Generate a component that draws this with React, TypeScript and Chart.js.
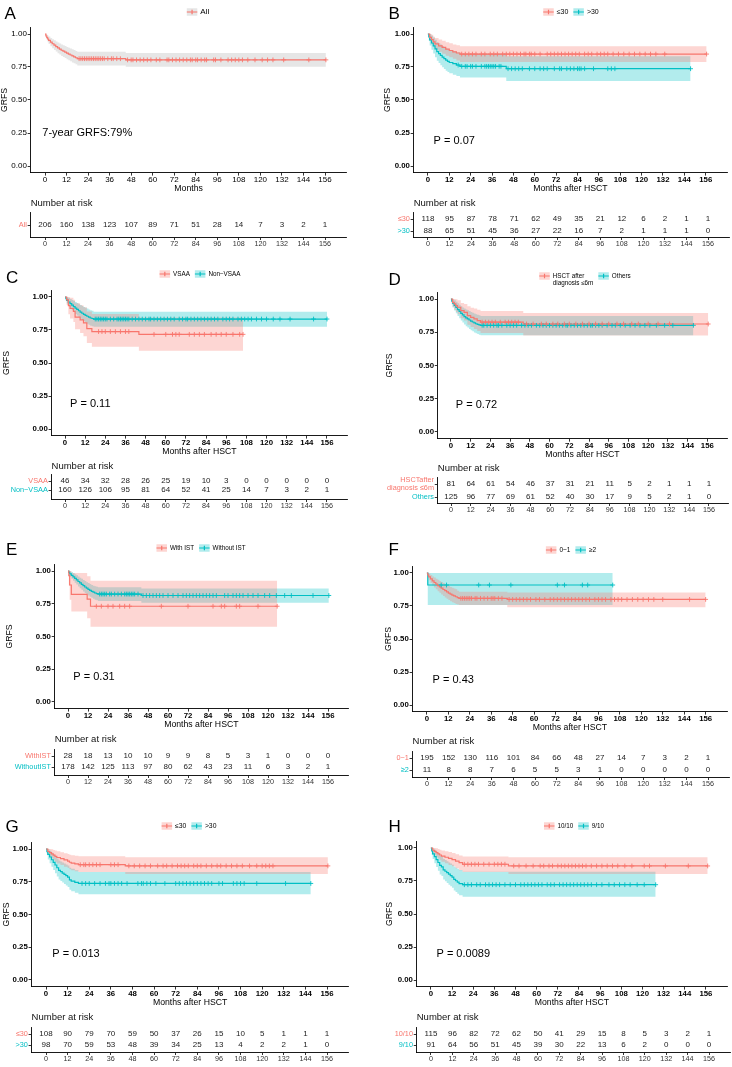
import React, { useEffect, useRef } from 'react';
import { Chart, registerables } from 'chart.js';
Chart.register(...registerables);

const FONT = '"Liberation Sans", Arial, Helvetica, sans-serif';
const RED = '#F8766D';
const TEAL = '#00BFC4';
const RED_BAND = 'rgba(248,118,109,0.3)';
const TEAL_BAND = 'rgba(0,191,196,0.3)';
const GREY_BAND = 'rgba(140,140,140,0.22)';

const MONTH_TICKS = [0, 12, 24, 36, 48, 60, 72, 84, 96, 108, 120, 132, 144, 156];
const GRFS_TICKS = [0, 0.25, 0.5, 0.75, 1];
const X_MIN = -8;
const X_MAX = 168;
const Y_MIN = -0.05;
const Y_MAX = 1.05;

// ---------- Panel A : All ----------
const A_ALL_T = [0, 0.5, 1, 1.5, 2, 3, 4, 5, 6, 7, 8, 9, 10, 11, 12, 13, 14, 15, 16, 17, 18, 45, 156.5];
const A_ALL_S = [1, 0.985, 0.972, 0.962, 0.952, 0.938, 0.926, 0.915, 0.905, 0.895, 0.886, 0.877, 0.87, 0.863, 0.855, 0.848, 0.841, 0.834, 0.827, 0.82, 0.813, 0.804, 0.804];
const A_ALL_L = [1, 0.968, 0.95, 0.937, 0.924, 0.907, 0.892, 0.879, 0.867, 0.855, 0.845, 0.834, 0.826, 0.818, 0.809, 0.801, 0.793, 0.785, 0.778, 0.77, 0.762, 0.752, 0.752];
const A_ALL_U = [1, 1, 0.995, 0.988, 0.981, 0.97, 0.961, 0.952, 0.944, 0.936, 0.928, 0.921, 0.915, 0.909, 0.902, 0.896, 0.89, 0.884, 0.878, 0.872, 0.866, 0.857, 0.857];
const A_ALL_C = [19, 20, 21, 22, 23, 24, 25, 26, 27, 28, 29, 30, 31, 32, 33, 35, 37, 38, 40, 42, 46, 48, 49, 51, 53, 55, 57, 59, 62, 64, 68, 69, 71, 73, 75, 77, 79, 81, 82, 84, 85, 87, 89, 90, 94, 95, 98, 102, 104, 106, 108, 110, 113, 117, 121, 124, 127, 133, 147, 156.5];
const A_RISK_ALL = [206, 160, 138, 123, 107, 89, 71, 51, 28, 14, 7, 3, 2, 1];

// ---------- Panel B ----------
const B_LE_T = [0, 1, 2, 3, 4, 6, 8, 10, 12, 14, 16, 18, 156.5];
const B_LE_S = [1, 0.975, 0.958, 0.94, 0.925, 0.91, 0.898, 0.885, 0.875, 0.865, 0.856, 0.848, 0.848];
const B_LE_L = [1, 0.947, 0.922, 0.9, 0.882, 0.865, 0.85, 0.835, 0.823, 0.812, 0.8, 0.787, 0.787];
const B_LE_U = [1, 1, 0.995, 0.98, 0.97, 0.958, 0.948, 0.937, 0.929, 0.921, 0.914, 0.908, 0.908];
const B_LE_C = [19, 21, 23, 25, 27, 30, 32, 35, 37, 39, 42, 44, 46, 48, 50, 52, 54, 55, 57, 58, 60, 63, 67, 69, 71, 73, 75, 77, 79, 81, 83, 85, 88, 90, 92, 95, 97, 99, 101, 104, 107, 110, 113, 116, 119, 122, 125, 128, 133, 156.5];
const B_GT_T = [0, 0.5, 1, 2, 3, 4, 5, 6, 7, 8, 9, 10, 11, 12, 14, 16, 18, 44, 147.5];
const B_GT_S = [1, 0.978, 0.955, 0.932, 0.91, 0.888, 0.866, 0.852, 0.838, 0.825, 0.813, 0.802, 0.793, 0.784, 0.775, 0.765, 0.755, 0.737, 0.737];
const B_GT_L = [1, 0.948, 0.912, 0.88, 0.852, 0.824, 0.797, 0.78, 0.764, 0.749, 0.735, 0.722, 0.712, 0.702, 0.692, 0.681, 0.67, 0.644, 0.644];
const B_GT_U = [1, 1, 0.999, 0.987, 0.972, 0.956, 0.94, 0.93, 0.92, 0.91, 0.9, 0.892, 0.885, 0.878, 0.87, 0.862, 0.85, 0.832, 0.832];
const B_GT_C = [17, 19, 21, 22, 24, 25, 27, 30, 32, 33, 34, 35, 36, 37, 38, 40, 41, 45, 47, 49, 51, 53, 57, 60, 63, 65, 67, 71, 74, 75, 78, 80, 82, 84, 85, 86, 88, 93, 101, 103, 105, 147.5];
const B_RISK_LE = [118, 95, 87, 78, 71, 62, 49, 35, 21, 12, 6, 2, 1, 1];
const B_RISK_GT = [88, 65, 51, 45, 36, 27, 22, 16, 7, 2, 1, 1, 1, 0];

// ---------- Panel C ----------
const C_VSAA_T = [0, 1, 2, 3, 5, 6, 9, 11, 13, 16, 44, 106];
const C_VSAA_S = [1, 0.978, 0.935, 0.913, 0.891, 0.848, 0.826, 0.804, 0.76, 0.738, 0.717, 0.717];
const C_VSAA_L = [1, 0.94, 0.87, 0.838, 0.81, 0.755, 0.728, 0.703, 0.652, 0.624, 0.593, 0.593];
const C_VSAA_U = [1, 1, 1, 0.995, 0.98, 0.953, 0.938, 0.922, 0.89, 0.872, 0.845, 0.845];
const C_VSAA_C = [20, 22, 24, 27, 30, 33, 36, 38, 53, 60, 64, 66, 68, 74, 77, 80, 83, 87, 90, 93, 96, 100, 104, 106];
const C_NON_T = [0, 0.5, 1, 2, 3, 4, 5, 6, 7, 8, 9, 10, 11, 12, 13, 14, 15, 16, 17, 156];
const C_NON_S = [1, 0.988, 0.975, 0.962, 0.95, 0.938, 0.927, 0.916, 0.906, 0.896, 0.886, 0.877, 0.869, 0.861, 0.854, 0.847, 0.841, 0.837, 0.833, 0.833];
const C_NON_L = [1, 0.97, 0.95, 0.932, 0.915, 0.9, 0.886, 0.872, 0.86, 0.848, 0.836, 0.826, 0.816, 0.806, 0.798, 0.79, 0.783, 0.779, 0.775, 0.775];
const C_NON_U = [1, 1, 1, 0.992, 0.985, 0.977, 0.97, 0.962, 0.954, 0.946, 0.939, 0.932, 0.925, 0.918, 0.912, 0.906, 0.9, 0.895, 0.889, 0.889];
const C_NON_C = [18, 19, 20, 21, 22, 23, 24, 25, 27, 29, 31, 32, 33, 34, 35, 36, 37, 38, 40, 42, 44, 46, 48, 50, 51, 53, 55, 57, 59, 61, 63, 65, 68, 70, 72, 73, 75, 77, 79, 81, 83, 85, 87, 89, 91, 94, 96, 98, 100, 103, 105, 107, 109, 111, 114, 117, 120, 124, 128, 134, 148, 156];
const C_RISK_VSAA = [46, 34, 32, 28, 26, 25, 19, 10, 3, 0, 0, 0, 0, 0];
const C_RISK_NON = [160, 126, 106, 95, 81, 64, 52, 41, 25, 14, 7, 3, 2, 1];

// ---------- Panel D ----------
const D_EARLY_T = [0, 1, 2, 3, 4, 6, 8, 10, 12, 14, 16, 18, 44, 156.5];
const D_EARLY_S = [1, 0.975, 0.963, 0.95, 0.938, 0.913, 0.9, 0.875, 0.862, 0.85, 0.838, 0.826, 0.812, 0.812];
const D_EARLY_L = [1, 0.94, 0.92, 0.902, 0.886, 0.855, 0.838, 0.807, 0.79, 0.774, 0.76, 0.745, 0.725, 0.725];
const D_EARLY_U = [1, 1, 1, 0.998, 0.99, 0.97, 0.962, 0.945, 0.935, 0.928, 0.92, 0.91, 0.895, 0.895];
const D_EARLY_C = [19, 21, 23, 25, 27, 30, 33, 35, 37, 39, 41, 46, 50, 55, 58, 62, 65, 69, 72, 76, 80, 84, 88, 92, 96, 101, 105, 110, 114, 120, 126, 133, 156.5];
const D_OTH_T = [0, 0.5, 1, 2, 3, 4, 5, 6, 7, 8, 9, 10, 11, 12, 13, 14, 15, 16, 17, 18, 147.5];
const D_OTH_S = [1, 0.984, 0.968, 0.952, 0.936, 0.92, 0.906, 0.892, 0.88, 0.868, 0.858, 0.85, 0.842, 0.834, 0.827, 0.82, 0.814, 0.809, 0.805, 0.802, 0.802];
const D_OTH_L = [1, 0.96, 0.937, 0.914, 0.893, 0.872, 0.855, 0.838, 0.823, 0.808, 0.795, 0.785, 0.775, 0.765, 0.757, 0.749, 0.742, 0.736, 0.731, 0.727, 0.727];
const D_OTH_U = [1, 1, 0.999, 0.99, 0.98, 0.968, 0.957, 0.946, 0.937, 0.928, 0.921, 0.915, 0.909, 0.903, 0.897, 0.891, 0.886, 0.882, 0.878, 0.873, 0.873];
const D_OTH_C = [19, 20, 22, 24, 26, 28, 29, 31, 34, 36, 38, 40, 43, 45, 47, 49, 52, 54, 56, 58, 60, 62, 64, 66, 68, 70, 71, 73, 75, 77, 79, 81, 83, 85, 86, 88, 90, 92, 95, 98, 100, 103, 106, 109, 112, 115, 118, 121, 125, 130, 135, 147.5];
const D_RISK_EARLY = [81, 64, 61, 54, 46, 37, 31, 21, 11, 5, 2, 1, 1, 1];
const D_RISK_OTH = [125, 96, 77, 69, 61, 52, 40, 30, 17, 9, 5, 2, 1, 0];

// ---------- Panel E ----------
const E_WITH_T = [0, 0.5, 1, 2, 11.5, 13.5, 125.5];
const E_WITH_S = [1, 0.964, 0.893, 0.821, 0.786, 0.731, 0.731];
const E_WITH_L = [1, 0.89, 0.78, 0.69, 0.64, 0.575, 0.575];
const E_WITH_U = [1, 1, 1, 0.985, 0.96, 0.926, 0.926];
const E_WITH_C = [17, 20, 24, 27, 31, 34, 37, 56, 72, 87, 92, 94, 101, 103, 114, 125.5];
const E_WO_T = [0, 0.5, 1, 2, 3, 4, 5, 6, 7, 8, 9, 10, 11, 12, 13, 14, 15, 16, 17, 18, 44, 156.5];
const E_WO_S = [1, 0.989, 0.978, 0.966, 0.955, 0.943, 0.932, 0.92, 0.909, 0.898, 0.888, 0.878, 0.869, 0.86, 0.852, 0.845, 0.838, 0.832, 0.828, 0.824, 0.813, 0.813];
const E_WO_L = [1, 0.974, 0.957, 0.94, 0.925, 0.91, 0.896, 0.882, 0.869, 0.856, 0.844, 0.833, 0.823, 0.813, 0.804, 0.796, 0.788, 0.781, 0.776, 0.771, 0.758, 0.758];
const E_WO_U = [1, 1, 0.999, 0.992, 0.985, 0.976, 0.968, 0.958, 0.949, 0.94, 0.932, 0.923, 0.915, 0.908, 0.9, 0.894, 0.888, 0.883, 0.879, 0.876, 0.866, 0.866];
const E_WO_C = [19, 20, 21, 22, 23, 25, 26, 28, 30, 32, 34, 35, 36, 37, 38, 39, 40, 42, 45, 47, 49, 51, 53, 55, 57, 60, 63, 66, 69, 71, 73, 75, 77, 79, 81, 83, 85, 87, 89, 94, 96, 99, 101, 103, 105, 108, 111, 114, 118, 121, 125, 130, 134, 147, 156.5];
const E_RISK_WITH = [28, 18, 13, 10, 10, 9, 9, 8, 5, 3, 1, 0, 0, 0];
const E_RISK_WO = [178, 142, 125, 113, 97, 80, 62, 43, 23, 11, 6, 3, 2, 1];

// ---------- Panel F ----------
const F_LOW_T = [0, 0.5, 1, 2, 3, 4, 5, 6, 7, 8, 9, 10, 11, 12, 13, 14, 15, 16, 17, 18, 45, 156];
const F_LOW_S = [1, 0.985, 0.97, 0.955, 0.94, 0.928, 0.916, 0.905, 0.895, 0.885, 0.875, 0.866, 0.857, 0.848, 0.84, 0.833, 0.826, 0.82, 0.814, 0.808, 0.8, 0.8];
const F_LOW_L = [1, 0.968, 0.946, 0.925, 0.906, 0.891, 0.876, 0.862, 0.85, 0.838, 0.826, 0.815, 0.805, 0.795, 0.786, 0.778, 0.772, 0.766, 0.762, 0.758, 0.74, 0.74];
const F_LOW_U = [1, 1, 0.994, 0.985, 0.974, 0.965, 0.956, 0.948, 0.94, 0.932, 0.924, 0.917, 0.909, 0.901, 0.894, 0.888, 0.882, 0.876, 0.866, 0.858, 0.853, 0.853];
const F_LOW_C = [19, 20, 21, 22, 23, 24, 25, 27, 28, 30, 32, 34, 36, 37, 38, 40, 42, 46, 48, 50, 52, 54, 56, 58, 61, 63, 66, 69, 71, 73, 75, 77, 79, 81, 83, 85, 87, 89, 91, 94, 96, 98, 100, 103, 105, 107, 109, 112, 115, 118, 121, 124, 127, 132, 147, 156];
const F_HIGH_T = [0, 0.5, 104];
const F_HIGH_S = [1, 0.909, 0.909];
const F_HIGH_L = [1, 0.758, 0.758];
const F_HIGH_U = [1, 1, 1];
const F_HIGH_C = [8, 11, 29, 35, 47, 73, 77, 87, 90, 104];
const F_RISK_LOW = [195, 152, 130, 116, 101, 84, 66, 48, 27, 14, 7, 3, 2, 1];
const F_RISK_HIGH = [11, 8, 8, 7, 6, 5, 5, 3, 1, 0, 0, 0, 0, 0];

// ---------- Panel G ----------
const G_LE_T = [0, 1, 2, 3, 4, 5, 6, 8, 10, 12, 13, 14, 16, 18, 44, 156.5];
const G_LE_S = [1, 0.981, 0.972, 0.963, 0.954, 0.944, 0.935, 0.926, 0.917, 0.908, 0.899, 0.892, 0.886, 0.88, 0.871, 0.871];
const G_LE_L = [1, 0.955, 0.941, 0.928, 0.915, 0.902, 0.889, 0.877, 0.865, 0.855, 0.845, 0.837, 0.83, 0.824, 0.81, 0.81];
const G_LE_U = [1, 1, 1, 0.998, 0.993, 0.988, 0.982, 0.975, 0.968, 0.962, 0.957, 0.952, 0.948, 0.945, 0.937, 0.937];
const G_LE_C = [19, 21, 22, 24, 26, 28, 30, 36, 38, 40, 46, 49, 52, 55, 58, 62, 65, 67, 70, 73, 75, 77, 79, 82, 84, 86, 89, 92, 95, 97, 100, 103, 106, 109, 113, 117, 120, 122, 124, 126, 156.5];
const G_GT_T = [0, 0.5, 1, 2, 3, 4, 5, 6, 7, 8, 9, 10, 11, 12, 13, 14, 16, 18, 147];
const G_GT_S = [1, 0.98, 0.959, 0.939, 0.918, 0.898, 0.878, 0.857, 0.837, 0.827, 0.816, 0.806, 0.796, 0.786, 0.765, 0.755, 0.745, 0.737, 0.737];
const G_GT_L = [1, 0.953, 0.92, 0.892, 0.865, 0.84, 0.815, 0.791, 0.767, 0.756, 0.744, 0.732, 0.721, 0.71, 0.688, 0.677, 0.666, 0.654, 0.654];
const G_GT_U = [1, 1, 0.999, 0.987, 0.973, 0.958, 0.943, 0.928, 0.913, 0.905, 0.897, 0.89, 0.882, 0.874, 0.857, 0.849, 0.838, 0.825, 0.825];
const G_GT_C = [20, 22, 24, 27, 30, 33, 35, 36, 38, 40, 42, 45, 51, 53, 54, 56, 58, 61, 66, 72, 74, 76, 78, 80, 82, 84, 86, 88, 90, 92, 96, 98, 104, 106, 108, 110, 117, 133, 147];
const G_RISK_LE = [108, 90, 79, 70, 59, 50, 37, 26, 15, 10, 5, 1, 1, 1];
const G_RISK_GT = [98, 70, 59, 53, 48, 39, 34, 25, 13, 4, 2, 2, 1, 0];

// ---------- Panel H ----------
const H_10_T = [0, 1, 2, 3, 4, 5, 6, 8, 10, 12, 14, 16, 18, 44, 157];
const H_10_S = [1, 0.983, 0.974, 0.965, 0.956, 0.947, 0.938, 0.93, 0.921, 0.912, 0.9, 0.889, 0.877, 0.864, 0.864];
const H_10_L = [1, 0.958, 0.945, 0.932, 0.92, 0.907, 0.895, 0.884, 0.872, 0.861, 0.847, 0.832, 0.818, 0.803, 0.803];
const H_10_U = [1, 1, 1, 0.998, 0.993, 0.987, 0.981, 0.976, 0.97, 0.963, 0.953, 0.944, 0.935, 0.93, 0.93];
const H_10_C = [19, 21, 23, 25, 27, 30, 33, 36, 38, 40, 42, 47, 50, 54, 58, 62, 64, 67, 69, 72, 74, 76, 78, 80, 82, 84, 86, 88, 91, 94, 97, 100, 103, 106, 110, 114, 121, 124, 133, 146, 157];
const H_9_T = [0, 0.5, 1, 2, 3, 4, 5, 6, 7, 8, 9, 10, 11, 12, 13, 14, 15, 16, 18, 127.5];
const H_9_S = [1, 0.978, 0.956, 0.934, 0.912, 0.89, 0.868, 0.857, 0.835, 0.824, 0.813, 0.802, 0.791, 0.78, 0.763, 0.752, 0.741, 0.73, 0.722, 0.722];
const H_9_L = [1, 0.948, 0.916, 0.885, 0.856, 0.828, 0.8, 0.787, 0.761, 0.748, 0.735, 0.722, 0.71, 0.698, 0.678, 0.666, 0.654, 0.642, 0.631, 0.631];
const H_9_U = [1, 1, 0.999, 0.986, 0.971, 0.956, 0.941, 0.933, 0.917, 0.909, 0.9, 0.891, 0.882, 0.873, 0.86, 0.851, 0.842, 0.833, 0.82, 0.82];
const H_9_C = [19, 21, 23, 26, 28, 31, 33, 35, 37, 39, 42, 45, 48, 51, 53, 55, 57, 59, 61, 63, 66, 68, 70, 73, 75, 77, 79, 81, 83, 85, 87, 89, 91, 94, 97, 101, 104, 107, 110, 113, 117, 121, 127.5];
const H_RISK_10 = [115, 96, 82, 72, 62, 50, 41, 29, 15, 8, 5, 3, 2, 1];
const H_RISK_9 = [91, 64, 56, 51, 45, 39, 30, 22, 13, 6, 2, 0, 0, 0];

interface Curve { color: string; band: string; T: number[]; S: number[]; L: number[]; U: number[]; C: number[]; }
interface LegendItem { text: string[]; color: string; band: string; }
interface Panel {
  letter: string; letterX: number; letterTop: number;
  col: number; x0: number; x156: number; y1: number; y0: number;
  yTitleX: number; xTitle: string; bold: boolean; tickSize: number;
  legend: LegendItem[]; legendX: number; legendY: number; legendSize: number;
  note: string; noteX: number; noteY: number;
  curves: Curve[];
  riskLabels: (string | string[])[]; riskColors: string[]; risk: number[][];
  riskRows: number[]; riskAxisY: number; riskTitleY: number;
}

const cv = (color: string, band: string, T: number[], S: number[], L: number[], U: number[], C: number[]): Curve => ({ color, band, T, S, L, U, C });

const PANELS: Panel[] = [
  {
    letter: 'A', letterX: 4.5, letterTop: 7.3, col: 0, x0: 45, x156: 325, y1: 34, y0: 166,
    yTitleX: 5, xTitle: 'Months', bold: false, tickSize: 8,
    legend: [{ text: ['All'], color: RED, band: GREY_BAND }], legendX: 198, legendY: 12, legendSize: 8,
    note: '7-year GRFS:79%', noteX: -1.5, noteY: 0.248,
    curves: [cv(RED, GREY_BAND, A_ALL_T, A_ALL_S, A_ALL_L, A_ALL_U, A_ALL_C)],
    riskLabels: ['All'], riskColors: [RED], risk: [A_RISK_ALL],
    riskRows: [225], riskAxisY: 237, riskTitleY: 203,
  },
  {
    letter: 'B', letterX: 388.5, letterTop: 7.3, col: 1, x0: 428, x156: 708, y1: 34, y0: 166,
    yTitleX: 387.7, xTitle: 'Months after HSCT', bold: true, tickSize: 7.8,
    legend: [{ text: ['≤30'], color: RED, band: RED_BAND }, { text: ['>30'], color: TEAL, band: TEAL_BAND }], legendX: 571, legendY: 12, legendSize: 7,
    note: 'P = 0.07', noteX: 3.2, noteY: 0.19,
    curves: [cv(RED, RED_BAND, B_LE_T, B_LE_S, B_LE_L, B_LE_U, B_LE_C), cv(TEAL, TEAL_BAND, B_GT_T, B_GT_S, B_GT_L, B_GT_U, B_GT_C)],
    riskLabels: ['≤30', '>30'], riskColors: [RED, TEAL], risk: [B_RISK_LE, B_RISK_GT],
    riskRows: [219, 231], riskAxisY: 237, riskTitleY: 203,
  },
  {
    letter: 'C', letterX: 6, letterTop: 270.7, col: 0, x0: 65, x156: 327, y1: 297, y0: 429,
    yTitleX: 6.7, xTitle: 'Months after HSCT', bold: true, tickSize: 7.8,
    legend: [{ text: ['VSAA'], color: RED, band: RED_BAND }, { text: ['Non−VSAA'], color: TEAL, band: TEAL_BAND }], legendX: 200, legendY: 274, legendSize: 6.3,
    note: 'P = 0.11', noteX: 3, noteY: 0.187,
    curves: [cv(RED, RED_BAND, C_VSAA_T, C_VSAA_S, C_VSAA_L, C_VSAA_U, C_VSAA_C), cv(TEAL, TEAL_BAND, C_NON_T, C_NON_S, C_NON_L, C_NON_U, C_NON_C)],
    riskLabels: ['VSAA', 'Non−VSAA'], riskColors: [RED, TEAL], risk: [C_RISK_VSAA, C_RISK_NON],
    riskRows: [481, 490], riskAxisY: 499, riskTitleY: 466,
  },
  {
    letter: 'D', letterX: 388.5, letterTop: 273.3, col: 1, x0: 451, x156: 709, y1: 299, y0: 432,
    yTitleX: 389.3, xTitle: 'Months after HSCT', bold: true, tickSize: 7.8,
    legend: [{ text: ['HSCT after', 'diagnosis ≤6m'], color: RED, band: RED_BAND }, { text: ['Others'], color: TEAL, band: TEAL_BAND }], legendX: 585, legendY: 276, legendSize: 6.3,
    note: 'P = 0.72', noteX: 3, noteY: 0.2,
    curves: [cv(RED, RED_BAND, D_EARLY_T, D_EARLY_S, D_EARLY_L, D_EARLY_U, D_EARLY_C), cv(TEAL, TEAL_BAND, D_OTH_T, D_OTH_S, D_OTH_L, D_OTH_U, D_OTH_C)],
    riskLabels: [['HSCTafter', 'diagnosis ≤6m'], 'Others'], riskColors: [RED, TEAL], risk: [D_RISK_EARLY, D_RISK_OTH],
    riskRows: [484, 497], riskAxisY: 503, riskTitleY: 468,
  },
  {
    letter: 'E', letterX: 6, letterTop: 542.7, col: 0, x0: 68, x156: 328, y1: 571, y0: 702,
    yTitleX: 9.3, xTitle: 'Months after HSCT', bold: true, tickSize: 7.8,
    legend: [{ text: ['With IST'], color: RED, band: RED_BAND }, { text: ['Without IST'], color: TEAL, band: TEAL_BAND }], legendX: 201, legendY: 548, legendSize: 6.3,
    note: 'P = 0.31', noteX: 3.2, noteY: 0.193,
    curves: [cv(RED, RED_BAND, E_WITH_T, E_WITH_S, E_WITH_L, E_WITH_U, E_WITH_C), cv(TEAL, TEAL_BAND, E_WO_T, E_WO_S, E_WO_L, E_WO_U, E_WO_C)],
    riskLabels: ['WithIST', 'WithoutIST'], riskColors: [RED, TEAL], risk: [E_RISK_WITH, E_RISK_WO],
    riskRows: [756, 767], riskAxisY: 775, riskTitleY: 739,
  },
  {
    letter: 'F', letterX: 388.5, letterTop: 542.7, col: 1, x0: 427, x156: 708, y1: 573, y0: 705,
    yTitleX: 388.7, xTitle: 'Months after HSCT', bold: true, tickSize: 7.8,
    legend: [{ text: ['0~1'], color: RED, band: RED_BAND }, { text: ['≥2'], color: TEAL, band: TEAL_BAND }], legendX: 571, legendY: 550, legendSize: 6.5,
    note: 'P = 0.43', noteX: 3.2, noteY: 0.19,
    curves: [cv(RED, RED_BAND, F_LOW_T, F_LOW_S, F_LOW_L, F_LOW_U, F_LOW_C), cv(TEAL, TEAL_BAND, F_HIGH_T, F_HIGH_S, F_HIGH_L, F_HIGH_U, F_HIGH_C)],
    riskLabels: ['0~1', '≥2'], riskColors: [RED, TEAL], risk: [F_RISK_LOW, F_RISK_HIGH],
    riskRows: [758, 770], riskAxisY: 777, riskTitleY: 741,
  },
  {
    letter: 'G', letterX: 5.5, letterTop: 820, col: 0, x0: 46, x156: 327, y1: 849, y0: 980,
    yTitleX: 6.7, xTitle: 'Months after HSCT', bold: true, tickSize: 7.8,
    legend: [{ text: ['≤30'], color: RED, band: RED_BAND }, { text: ['>30'], color: TEAL, band: TEAL_BAND }], legendX: 189, legendY: 826, legendSize: 6.8,
    note: 'P = 0.013', noteX: 3.5, noteY: 0.196,
    curves: [cv(RED, RED_BAND, G_LE_T, G_LE_S, G_LE_L, G_LE_U, G_LE_C), cv(TEAL, TEAL_BAND, G_GT_T, G_GT_S, G_GT_L, G_GT_U, G_GT_C)],
    riskLabels: ['≤30', '>30'], riskColors: [RED, TEAL], risk: [G_RISK_LE, G_RISK_GT],
    riskRows: [1034, 1045], riskAxisY: 1052, riskTitleY: 1017,
  },
  {
    letter: 'H', letterX: 388.5, letterTop: 820, col: 1, x0: 431, x156: 709, y1: 848, y0: 980,
    yTitleX: 389.3, xTitle: 'Months after HSCT', bold: true, tickSize: 7.8,
    legend: [{ text: ['10/10'], color: RED, band: RED_BAND }, { text: ['9/10'], color: TEAL, band: TEAL_BAND }], legendX: 574, legendY: 826, legendSize: 6.3,
    note: 'P = 0.0089', noteX: 3.2, noteY: 0.195,
    curves: [cv(RED, RED_BAND, H_10_T, H_10_S, H_10_L, H_10_U, H_10_C), cv(TEAL, TEAL_BAND, H_9_T, H_9_S, H_9_L, H_9_U, H_9_C)],
    riskLabels: ['10/10', '9/10'], riskColors: [RED, TEAL], risk: [H_RISK_10, H_RISK_9],
    riskRows: [1034, 1045], riskAxisY: 1052, riskTitleY: 1017,
  },
];

function survAt(c: Curve, t: number): number {
  let v = c.S[0];
  for (let i = 0; i < c.T.length; i++) if (c.T[i] <= t) v = c.S[i];
  return v;
}

function kmGeom(p: Panel) {
  const k = (p.x156 - p.x0) / 156;
  const ppy = p.y0 - p.y1;
  const left = p.x0 + X_MIN * k;
  const right = p.x0 + X_MAX * k;
  const top = p.y1 - (Y_MAX - 1) * ppy;
  const bottom = p.y0 - Y_MIN * ppy;
  const cl = p.col * 366;
  const ct = Math.floor(top - 26);
  const cb = Math.ceil(bottom + 24);
  return { left, right, top, bottom, cl, ct, cw: 366, ch: cb - ct, yw: left - cl, xh: cb - bottom, padTop: top - ct, padRight: cl + 366 - right };
}

function riskGeom(p: Panel) {
  const k = (p.x156 - p.x0) / 156;
  const left = p.x0 + X_MIN * k;
  const right = p.x0 + X_MAX * k;
  const n = p.riskRows.length;
  const ppu = n > 1 ? p.riskRows[1] - p.riskRows[0] : 25;
  const top = p.riskRows[0] - (n > 1 ? 7 : 12.5);
  const bottom = p.riskAxisY;
  const ymin = 1 - (p.riskRows[0] - top) / ppu;
  const ymax = n + (bottom - p.riskRows[n - 1]) / ppu;
  const cl = p.col * 366;
  const ct = Math.floor(p.riskTitleY - 9);
  const cb = Math.ceil(bottom + 14);
  return { left, right, top, bottom, ymin, ymax, cl, ct, cw: 366, ch: cb - ct, yw: left - cl, xh: cb - bottom, padTop: top - ct, padRight: cl + 366 - right };
}

function drawLegend(ctx: CanvasRenderingContext2D, items: LegendItem[], cx: number, cy: number, size: number) {
  ctx.save();
  ctx.font = `${size}px ${FONT}`;
  const iconW = 10.5, iconH = 7.5, gap = 3, itemGap = 5;
  const widths = items.map((it) => iconW + gap + Math.max(...it.text.map((t) => ctx.measureText(t).width)));
  const total = widths.reduce((a, b) => a + b, 0) + itemGap * (items.length - 1);
  let x = cx - total / 2;
  items.forEach((it, i) => {
    ctx.fillStyle = it.band;
    ctx.fillRect(x, cy - iconH / 2, iconW, iconH);
    ctx.strokeStyle = it.color;
    ctx.lineWidth = 1.2;
    ctx.beginPath();
    ctx.moveTo(x, cy); ctx.lineTo(x + iconW, cy);
    ctx.moveTo(x + iconW / 2, cy - 2.3); ctx.lineTo(x + iconW / 2, cy + 2.3);
    ctx.stroke();
    ctx.fillStyle = '#000';
    ctx.textAlign = 'left';
    ctx.textBaseline = 'middle';
    it.text.forEach((t, li) => ctx.fillText(t, x + iconW + gap, cy + li * size * 1.1));
    x += widths[i] + itemGap;
  });
  ctx.restore();
}

const axisGrid = { display: true, drawOnChartArea: false, drawTicks: true, tickLength: 3, color: '#000', lineWidth: 0.8 };
const axisBorder = { display: true, color: '#000', width: 0.9 };

function KMChart({ p }: { p: Panel }) {
  const ref = useRef<HTMLCanvasElement | null>(null);
  const g = kmGeom(p);
  useEffect(() => {
    const canvas = ref.current;
    if (!canvas) return;
    const datasets: any[] = [];
    p.curves.forEach((c) => {
      datasets.push({ data: c.T.map((t, i) => ({ x: t, y: c.U[i] })), stepped: true, borderColor: 'rgba(0,0,0,0)', borderWidth: 0, pointRadius: 0, fill: false, order: 10 });
      datasets.push({ data: c.T.map((t, i) => ({ x: t, y: c.L[i] })), stepped: true, borderColor: 'rgba(0,0,0,0)', borderWidth: 0, pointRadius: 0, fill: '-1', backgroundColor: c.band, order: 10 });
    });
    p.curves.forEach((c) => {
      datasets.push({ data: c.T.map((t, i) => ({ x: t, y: c.S[i] })), stepped: true, borderColor: c.color, borderWidth: 1.2, pointRadius: 0, fill: false, order: 1 });
      datasets.push({ data: c.C.map((t) => ({ x: t, y: survAt(c, t) })), showLine: false, pointStyle: 'cross', pointRadius: 2.4, pointBorderWidth: 0.9, pointBorderColor: c.color, borderColor: c.color, backgroundColor: c.color, order: 0 });
    });
    const textPlugin = {
      id: 'kmText',
      afterDraw(chart: any) {
        const ctx = chart.ctx as CanvasRenderingContext2D;
        const xs = chart.scales.x, ys = chart.scales.y;
        ctx.save();
        ctx.fillStyle = '#000';
        ctx.font = `11px ${FONT}`;
        ctx.textAlign = 'left';
        ctx.textBaseline = 'middle';
        ctx.fillText(p.note, xs.getPixelForValue(p.noteX), ys.getPixelForValue(p.noteY));
        ctx.restore();
        drawLegend(ctx, p.legend, p.legendX - g.cl, p.legendY - g.ct, p.legendSize);
      },
    };
    const tickFont = { family: FONT, size: p.tickSize, weight: p.bold ? 'bold' : 'normal', lineHeight: 1 };
    const chart = new Chart(canvas, {
      type: 'line',
      data: { datasets },
      options: {
        animation: false,
        responsive: false,
        maintainAspectRatio: false,
        events: [],
        layout: { padding: { top: g.padTop, right: g.padRight, left: 0, bottom: 0 } },
        plugins: { legend: { display: false }, tooltip: { enabled: false }, title: { display: false } },
        scales: {
          x: {
            type: 'linear', min: X_MIN, max: X_MAX,
            afterBuildTicks: (s: any) => { s.ticks = MONTH_TICKS.map((v) => ({ value: v })); },
            afterFit: (s: any) => { s.height = g.xh; s.paddingLeft = 0; s.paddingRight = 0; s.paddingTop = 0; s.paddingBottom = 0; },
            ticks: { font: tickFont, color: '#000', padding: 0.5, maxRotation: 0, autoSkip: false, callback: (v: any) => String(v) },
            grid: axisGrid, border: axisBorder,
            title: { display: true, text: p.xTitle, color: '#000', font: { family: FONT, size: 8.7, lineHeight: 1 }, padding: { top: 0, bottom: g.xh - 4.35 - 15.7 } },
          },
          y: {
            type: 'linear', min: Y_MIN, max: Y_MAX,
            afterBuildTicks: (s: any) => { s.ticks = GRFS_TICKS.map((v) => ({ value: v })); },
            afterFit: (s: any) => { s.width = g.yw; s.paddingLeft = 0; s.paddingRight = 0; s.paddingTop = 0; s.paddingBottom = 0; },
            ticks: { font: tickFont, color: '#000', padding: 0.8, callback: (v: any) => Number(v).toFixed(2) },
            grid: axisGrid, border: axisBorder,
            title: { display: true, text: 'GRFS', color: '#000', font: { family: FONT, size: 8.7, lineHeight: 1 }, padding: { top: p.yTitleX - g.cl - 4.35, bottom: 0 } },
          },
        },
      } as any,
      plugins: [textPlugin],
    });
    return () => chart.destroy();
  }, []);
  return <canvas ref={ref} width={g.cw} height={g.ch} style={{ position: 'absolute', left: g.cl, top: g.ct, width: g.cw, height: g.ch }} />;
}

function RiskChart({ p }: { p: Panel }) {
  const ref = useRef<HTMLCanvasElement | null>(null);
  const g = riskGeom(p);
  useEffect(() => {
    const canvas = ref.current;
    if (!canvas) return;
    const datasets = p.risk.map((row, r) => ({
      data: MONTH_TICKS.map((t) => ({ x: t, y: r + 1 })),
      showLine: false, pointRadius: 0, borderColor: 'rgba(0,0,0,0)',
    }));
    const numPlugin = {
      id: 'riskText',
      afterDatasetsDraw(chart: any) {
        const ctx = chart.ctx as CanvasRenderingContext2D;
        ctx.save();
        ctx.fillStyle = '#222';
        ctx.font = `8px ${FONT}`;
        ctx.textAlign = 'center';
        ctx.textBaseline = 'middle';
        p.risk.forEach((row, r) => {
          const meta = chart.getDatasetMeta(r);
          meta.data.forEach((el: any, i: number) => ctx.fillText(String(row[i]), el.x, el.y));
        });
        ctx.fillStyle = '#111';
        ctx.font = `9.5px ${FONT}`;
        ctx.textAlign = 'left';
        ctx.fillText('Number at risk', chart.chartArea.left, p.riskTitleY - g.ct);
        ctx.restore();
      },
    };
    const chart = new Chart(canvas, {
      type: 'line',
      data: { datasets },
      options: {
        animation: false,
        responsive: false,
        maintainAspectRatio: false,
        events: [],
        layout: { padding: { top: g.padTop, right: g.padRight, left: 0, bottom: 0 } },
        plugins: { legend: { display: false }, tooltip: { enabled: false }, title: { display: false } },
        scales: {
          x: {
            type: 'linear', min: X_MIN, max: X_MAX,
            afterBuildTicks: (s: any) => { s.ticks = MONTH_TICKS.map((v) => ({ value: v })); },
            afterFit: (s: any) => { s.height = g.xh; s.paddingLeft = 0; s.paddingRight = 0; s.paddingTop = 0; s.paddingBottom = 0; },
            ticks: { font: { family: FONT, size: 7.2, lineHeight: 1 }, color: '#333', padding: 0, maxRotation: 0, autoSkip: false, callback: (v: any) => String(v) },
            grid: axisGrid, border: axisBorder,
          },
          y: {
            type: 'linear', min: g.ymin, max: g.ymax, reverse: true,
            afterBuildTicks: (s: any) => { s.ticks = p.riskLabels.map((_, i) => ({ value: i + 1 })); },
            afterFit: (s: any) => { s.width = g.yw; s.paddingLeft = 0; s.paddingRight = 0; s.paddingTop = 0; s.paddingBottom = 0; },
            ticks: {
              font: { family: FONT, size: 7.3, lineHeight: 1.2 }, padding: 0.8, autoSkip: false,
              color: (c: any) => p.riskColors[c.index] || '#333',
              callback: (_v: any, i: number) => p.riskLabels[i],
            },
            grid: axisGrid, border: axisBorder,
          },
        },
      } as any,
      plugins: [numPlugin],
    });
    return () => chart.destroy();
  }, []);
  return <canvas ref={ref} width={g.cw} height={g.ch} style={{ position: 'absolute', left: g.cl, top: g.ct, width: g.cw, height: g.ch }} />;
}

export default function App() {
  return (
    <div style={{ position: 'absolute', left: 0, top: 0, width: 732, height: 1067, background: '#fff', overflow: 'hidden' }}>
      {PANELS.map((p) => (
        <React.Fragment key={p.letter}>
          <KMChart p={p} />
          <RiskChart p={p} />
          <div style={{ position: 'absolute', left: p.letterX, top: p.letterTop - 2.2, fontSize: 17, lineHeight: '17px', fontFamily: FONT, color: '#000' }}>{p.letter}</div>
        </React.Fragment>
      ))}
    </div>
  );
}
